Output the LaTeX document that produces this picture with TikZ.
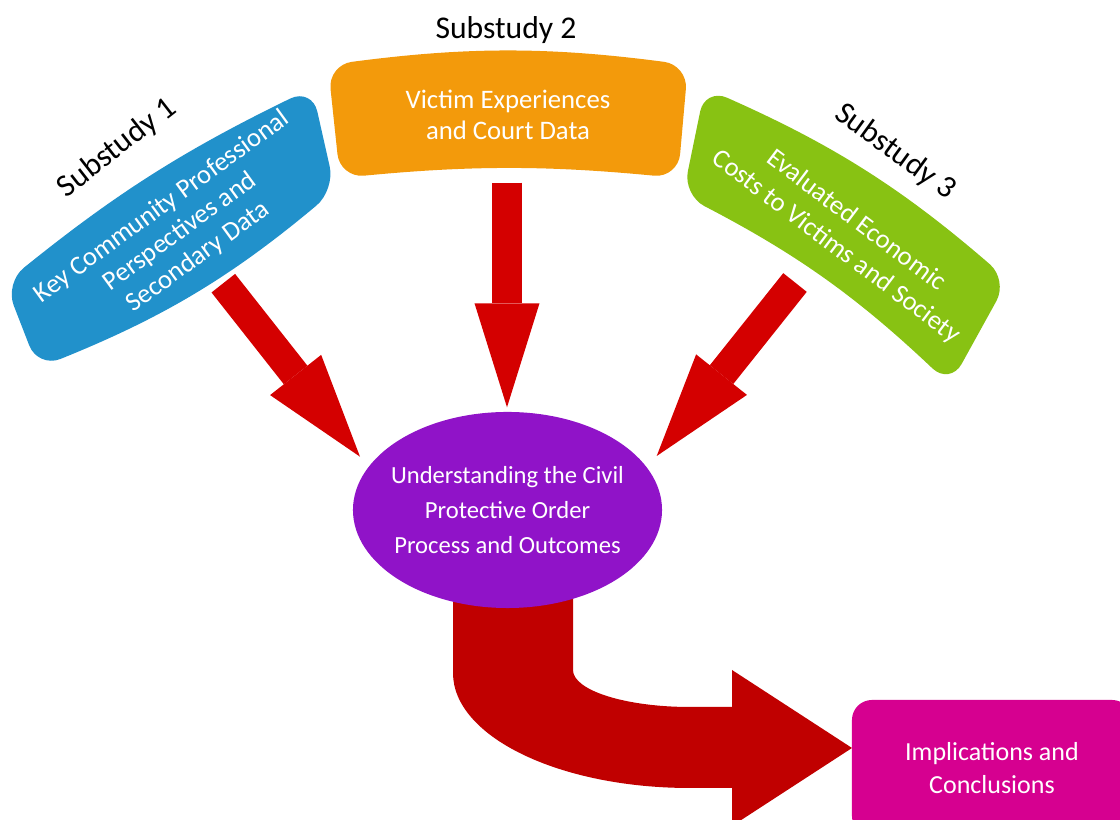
\documentclass[tikz,border=0pt]{standalone}
\usepackage{fontspec}
\setmainfont{Carlito}
\definecolor{BleuSub}{HTML}{2191CB}
\definecolor{OrangeSub}{HTML}{F39A0B}
\definecolor{VertSub}{HTML}{88C213}
\definecolor{VioletCentre}{HTML}{9013C8}
\definecolor{RougeFleche}{HTML}{D40000}
\definecolor{RougeFonce}{HTML}{C00000}
\definecolor{RoseFin}{HTML}{D60090}
\usetikzlibrary{arrows.meta}
\usetikzlibrary{shapes.geometric}
\usetikzlibrary{positioning}
\tikzset{
	textebandeau/.style={text=white, align=center, inner sep=0pt, font=\fontsize{19}{22}\selectfont},
	titresub/.style={text=black, inner sep=0pt, font=\fontsize{22.5}{27}\selectfont},
	flecherouge/.style={RougeFleche, line width=0.75cm, -{Triangle[length=2.6cm, width=1.625cm, line width=0pt]}}
}
% bandeau courbe : #1 couleur, #2-#5 coins (ext. gauche, ext. droit, int. droit, int. gauche), #6 #7 courbures
\newcommand{\bandeau}[7]{%
	\fill[#1, rounded corners=0.6cm] #2 to[bend left=#6] #3 -- #4 to[bend right=#7] #5 -- cycle;}

\begin{document}
\begin{tikzpicture}[x=0.025cm, y=0.025cm]
	\useasboundingbox (0,0) rectangle (1120,820);
	\clip (0,0) rectangle (1120,820);
	%
	% Les trois bandeaux des sous-etudes
	\bandeau{BleuSub}{(5,537)}{(312,732)}{(335,630)}{(38,452)}{6.5}{-9}
	\bandeau{OrangeSub}{(328,755)}{(688,755)}{(678,642)}{(340,642)}{7.5}{5.5}
	\bandeau{VertSub}{(705,732)}{(1008,540)}{(950,435)}{(683,625)}{8.5}{8}
	%
	\node[textebandeau, rotate=36] (sub1) at (180,588) {Key Community Professional\\Perspectives and\\Secondary Data};
	\node[textebandeau] (sub2) at (508,705) {Victim Experiences\\and Court Data};
	\node[textebandeau, rotate=-37, font=\fontsize{19}{23.5}\selectfont] (sub3) at (846,586) {Evaluated Economic\\Costs to Victims and Society};
	%
	% Titres
	\node[titresub, rotate=38] (titre1) at (117,672) {Substudy 1};
	\node[titresub] (titre2) at (506,790) {Substudy 2};
	\node[titresub, rotate=-36] (titre3) at (895,668) {Substudy 3};
	%
	% Fleches rouges vers le centre
	\coordinate (q1) at (223.3,536.8);
	\coordinate (p1) at (360,363.3);
	\coordinate (q2) at (507,637.3);
	\coordinate (p2) at (507,412.7);
	\coordinate (q3) at (795,537.5);
	\coordinate (p3) at (656.7,364);
	\draw[flecherouge] (q1) -- (p1);
	\draw[flecherouge] (q2) -- (p2);
	\draw[flecherouge] (q3) -- (p3);
	%
	% Grande fleche courbe vers les conclusions
	\fill[RougeFonce] (453,262) -- (453,147) .. controls (453,83.5) and (559,32) .. (690,32) -- (732,32) -- (732,-6)
	-- (852,72) -- (732,150) -- (732,113) -- (690,113) .. controls (625.4,113) and (573,129.6) .. (573,150) -- (573,262) -- cycle;
	%
	% Ellipse centrale
	\node[ellipse, fill=VioletCentre, minimum width=7.725cm, minimum height=4.9cm, inner xsep=-0.3cm, inner ysep=0pt,
	text=white, align=center, font=\fontsize{17.5}{24.9}\selectfont] (centre) at (507.5,310) {Understanding the Civil\\Protective Order\\Process and Outcomes};
	%
	% Conclusions
	\node[rectangle, rounded corners=0.5cm, fill=RoseFin, minimum width=7cm, minimum height=3.4cm, text=white, align=center,
	font=\fontsize{18.5}{23.5}\selectfont] (concl) at (992,52) {Implications and\\Conclusions};
\end{tikzpicture}
\end{document}
